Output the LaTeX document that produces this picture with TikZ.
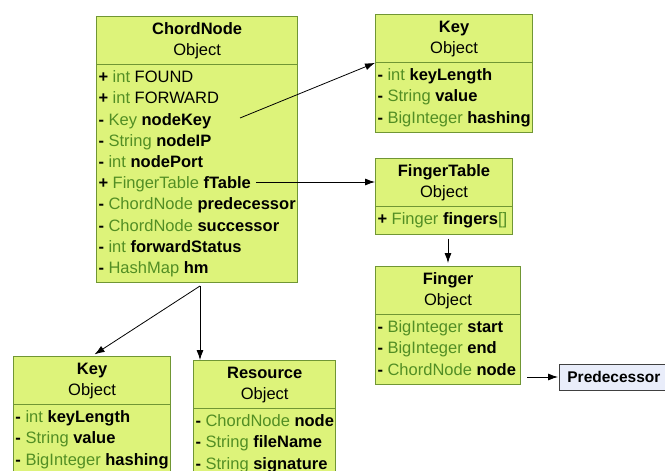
\documentclass[tikz,border=0pt]{standalone}
\usepackage{fontspec}
\setmainfont{Liberation Sans}
\usetikzlibrary{shapes.multipart,arrows.meta,positioning}

\definecolor{classfill}{RGB}{221,243,122}
\definecolor{classline}{RGB}{112,150,52}
\definecolor{typegreen}{RGB}{82,142,36}
\definecolor{notefill}{RGB}{233,237,250}

\newcommand{\classhead}[1]{\begin{tabular}{@{}c@{}}\textbf{#1}\\Object\end{tabular}}
\newcommand{\ty}[1]{\textcolor{typegreen}{#1}}

\begin{document}
\begin{tikzpicture}[
    x=1pt, y=-1pt,
    umlclass/.style={rectangle split, rectangle split parts=2,
        rectangle split part align={center,left},
        draw=classline, fill=classfill, line width=1pt,
        inner xsep=2pt, inner ysep=2.5pt, anchor=north west,
        font=\fontsize{16.5}{21.2}\selectfont},
    notebox/.style={draw=black!75, fill=notefill, line width=0.8pt,
        inner xsep=8pt, minimum height=26pt, anchor=west,
        font=\fontsize{15.5}{18}\selectfont\bfseries},
    assoc/.style={-{Latex[length=10pt,width=7pt]}, line width=0.8pt}
]
    \clip (0,0) rectangle (665,471);

    \node[umlclass, minimum width=200pt] (chord) at (96,16) {\classhead{ChordNode}
        \nodepart{two}\begin{tabular}{@{}l@{}}
        \textbf{+} \ty{int} FOUND\\
        \textbf{+} \ty{int} FORWARD\\
        \textbf{-} \ty{Key} \textbf{nodeKey}\\
        \textbf{-} \ty{String} \textbf{nodeIP}\\
        \textbf{-} \ty{int} \textbf{nodePort}\\
        \textbf{+} \ty{FingerTable} \textbf{fTable}\\
        \textbf{-} \ty{ChordNode} \textbf{predecessor}\\
        \textbf{-} \ty{ChordNode} \textbf{successor}\\
        \textbf{-} \ty{int} \textbf{forwardStatus}\\
        \textbf{-} \ty{HashMap} \textbf{hm}
        \end{tabular}};

    \node[umlclass, minimum width=157pt] (key) at (375,14) {\classhead{Key}
        \nodepart{two}\begin{tabular}{@{}l@{}}
        \textbf{-} \ty{int} \textbf{keyLength}\\
        \textbf{-} \ty{String} \textbf{value}\\
        \textbf{-} \ty{BigInteger} \textbf{hashing}
        \end{tabular}};

    \node[umlclass, minimum width=137pt] (ftable) at (375,158) {\classhead{FingerTable}
        \nodepart{two}\begin{tabular}{@{}l@{}}
        \textbf{+} \ty{Finger} \textbf{fingers}\ty{[]}
        \end{tabular}};

    \node[umlclass, minimum width=145pt] (finger) at (375,266) {\classhead{Finger}
        \nodepart{two}\begin{tabular}{@{}l@{}}
        \textbf{-} \ty{BigInteger} \textbf{start}\\
        \textbf{-} \ty{BigInteger} \textbf{end}\\
        \textbf{-} \ty{ChordNode} \textbf{node}
        \end{tabular}};

    \node[umlclass, minimum width=157pt] (keylow) at (13,356) {\classhead{Key}
        \nodepart{two}\begin{tabular}{@{}l@{}}
        \textbf{-} \ty{int} \textbf{keyLength}\\
        \textbf{-} \ty{String} \textbf{value}\\
        \textbf{-} \ty{BigInteger} \textbf{hashing}
        \end{tabular}};

    \node[umlclass, minimum width=140pt] (resource) at (193,360) {\classhead{Resource}
        \nodepart{two}\begin{tabular}{@{}l@{}}
        \textbf{-} \ty{ChordNode} \textbf{node}\\
        \textbf{-} \ty{String} \textbf{fileName}\\
        \textbf{-} \ty{String} \textbf{signature}
        \end{tabular}};

    \node[notebox] (pred) at (559,377) {Predecessor};

    % connector ends next to the field names
    \coordinate (nodekeyref) at (240,118);
    \coordinate (ftableref) at (256,182);
    \coordinate (fork) at (200,286);

    \draw[assoc] (nodekeyref) -- (key.text split west);
    \draw[assoc] (ftableref) -- (ftableref -| ftable.west);
    \draw[assoc, shorten <=4pt, shorten >=3pt] (finger.north |- ftable.south) -- (finger.north);
    \draw[assoc] (fork) -- (fork |- resource.north);
    \draw[assoc, shorten >=3pt] (fork) -- (keylow.north);
    \draw[assoc, shorten <=6pt, shorten >=1pt] (finger.east |- pred.west) -- (pred.west);
\end{tikzpicture}
\end{document}
